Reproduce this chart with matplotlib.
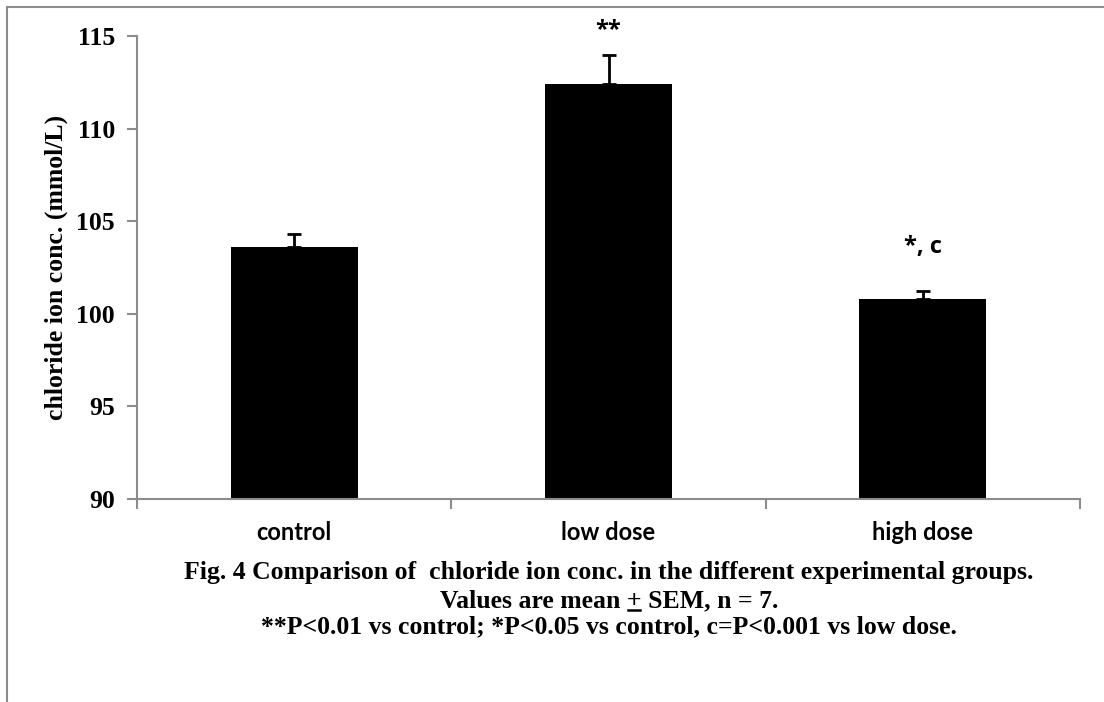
import matplotlib
matplotlib.use("Agg")
import matplotlib.pyplot as plt
from matplotlib.lines import Line2D

categories = ["control", "low dose", "high dose"]
means = [103.6, 112.4, 100.8]
sem = [0.7, 1.6, 0.45]
annotations = ["", "**", "*, c"]
yticks = [90, 95, 100, 105, 110, 115]
ylabel = "chloride ion conc. (mmol/L)"
caption = [
    "Fig. 4 Comparison of  chloride ion conc. in the different experimental groups.",
    "Values are mean + SEM, n = 7.",
    "**P<0.01 vs control; *P<0.05 vs control, c=P<0.001 vs low dose.",
]
underlined_prefix = "Values are mean +"

serif = ["Liberation Serif", "DejaVu Serif"]
sans = ["Lato", "DejaVu Sans"]
gray = "#8c8c8c"

fig = plt.figure(figsize=(11.04, 7.02), dpi=100)
ax = fig.add_axes([137 / 1104, 1 - 499 / 702, (1080 - 137) / 1104, (499 - 36) / 702])

x = list(range(len(categories)))
ax.bar(x, [m - 90 for m in means], bottom=90, width=0.405, color="black", zorder=2)
ax.errorbar(x, means, yerr=[[0] * len(sem), sem], fmt="none", ecolor="black",
            elinewidth=2, capsize=5, capthick=2, zorder=3)

ax.set_xlim(-0.5, 2.5)
ax.set_ylim(90, 115)
ax.set_yticks(yticks)
ax.set_yticklabels([str(t) for t in yticks], fontfamily=serif, fontweight="bold", fontsize=18.5)
ax.set_xticks(x)
ax.set_xticklabels(categories, fontfamily=sans, fontweight="bold", fontsize=17)
ax.set_xticks([-0.5, 0.5, 1.5, 2.5], minor=True)
ax.tick_params(axis="x", which="major", length=0, pad=16)
ax.tick_params(axis="x", which="minor", length=7, width=1.5, color=gray, direction="out")
ax.tick_params(axis="y", length=7, width=1.5, color=gray, direction="out", pad=9)
for s in ["top", "right"]:
    ax.spines[s].set_visible(False)
for s in ["left", "bottom"]:
    ax.spines[s].set_color(gray)
    ax.spines[s].set_linewidth(1.5)

ax.set_ylabel(ylabel, fontfamily=serif, fontweight="bold", fontsize=18.5, labelpad=6)
ax.yaxis.set_label_coords(-(137 - 68) / 943, (499 - 267) / 463)

offsets = [0, 1.3, 2.35]
for xi, m, e, a, o in zip(x, means, sem, annotations, offsets):
    if a:
        ax.text(xi, m + e + o, a, ha="center", va="center", fontfamily=["Open Sans", "DejaVu Sans"],
                fontweight="bold", fontsize=17)

ys = [572, 601, 627]
texts = []
for line, yp in zip(caption, ys):
    t = fig.text(609 / 1104, 1 - yp / 702, line, ha="center", va="center",
                 fontfamily=serif, fontweight="bold", fontsize=18.5)
    texts.append(t)

# underline the "+" in the second caption line
renderer = fig.canvas.get_renderer()
full_bb = texts[1].get_window_extent(renderer)
tmp = fig.text(0, 0, underlined_prefix, fontfamily=serif, fontweight="bold", fontsize=18.5)
pre_w = tmp.get_window_extent(renderer).width
tmp.set_text("+")
plus_w = tmp.get_window_extent(renderer).width
tmp.remove()
x1 = full_bb.x0 + pre_w
x0 = x1 - plus_w
yline = 1 - (ys[1] + 9) / 702
fig.add_artist(Line2D([x0 / 1104 + 0.001, x1 / 1104 - 0.001], [yline, yline], color="black", lw=1.8,
                      transform=fig.transFigure))

fig.add_artist(Line2D([7 / 1104, 1], [1 - 7 / 702, 1 - 7 / 702], color=gray, lw=1.5,
                      transform=fig.transFigure))
fig.add_artist(Line2D([7 / 1104, 7 / 1104], [0, 1 - 7 / 702], color=gray, lw=1.5,
                      transform=fig.transFigure))

fig.savefig("out.png", dpi=100)
